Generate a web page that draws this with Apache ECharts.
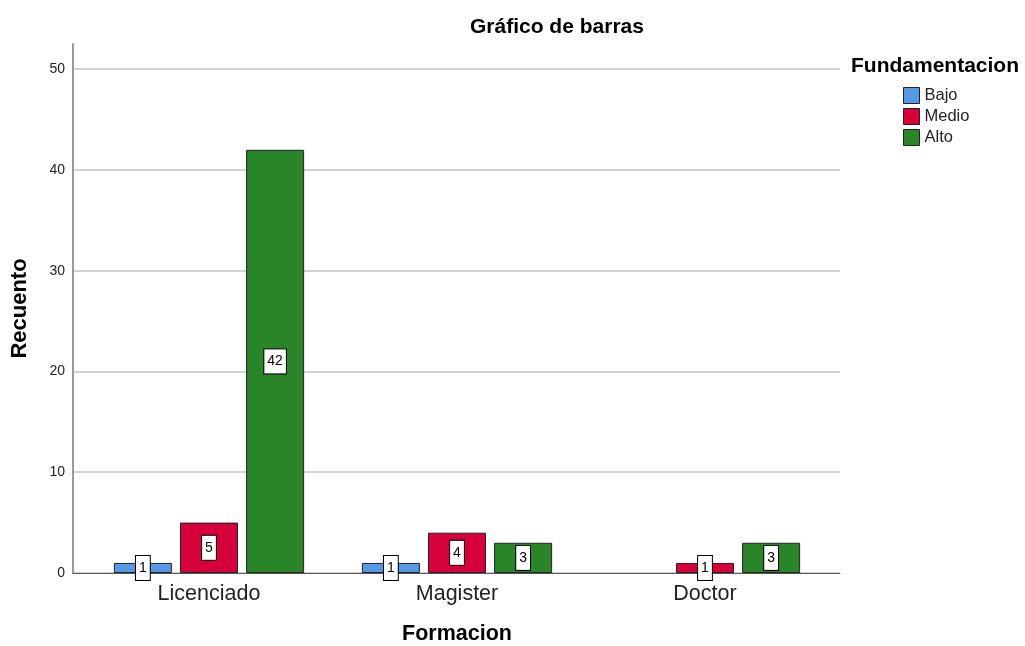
<!DOCTYPE html>
<html>
<head>
<meta charset="utf-8">
<script src="https://cdn.jsdelivr.net/npm/echarts@6/dist/echarts.min.js"></script>
<style>
    html, body { margin: 0; padding: 0; background: #fff; }
    #chartBar { width: 1025px; height: 646px; }
</style>
</head>
<body>
<div id="chartBar"></div>
<script>
    // datos
    var categorias = ['Licenciado', 'Magister', 'Doctor'];
    var niveles = ['Bajo', 'Medio', 'Alto'];
    var bajo = [1, 1, null];
    var medio = [5, 4, 1];
    var alto = [42, 3, 3];
    var colores = ['#5598e6', '#d6003a', '#2a8529'];

    var font = 'Liberation Sans, Arial, sans-serif';
    var chartBar = echarts.init(document.getElementById('chartBar'));

    function serie(nombre, datos, color) {
        return {
            name: nombre,
            type: 'bar',
            xAxisIndex: 1,
            yAxisIndex: 1,
            barWidth: 58,
            barGap: '14%',
            data: datos,
            itemStyle: { color: color, borderColor: '#222', borderWidth: 1 },
            label: {
                show: true,
                position: 'inside',
                formatter: '{c}',
                color: '#000',
                fontSize: 14,
                fontFamily: font,
                backgroundColor: '#fff',
                borderColor: '#000',
                borderWidth: 1,
                padding: [5, 3, 5, 3]
            }
        };
    }

    chartBar.setOption({
        animation: false,
        textStyle: { fontFamily: font },
        title: [
            {
                text: 'Gráfico de barras',
                left: 465,
                top: 12,
                textStyle: { fontSize: 21, fontWeight: 'bold', color: '#000', fontFamily: font }
            },
            {
                text: 'Fundamentacion',
                left: 846,
                top: 51,
                textStyle: { fontSize: 21, fontWeight: 'bold', color: '#000', fontFamily: font }
            }
        ],
        legend: {
            data: niveles,
            orient: 'vertical',
            left: 903,
            top: 87,
            padding: 0,
            icon: 'rect',
            itemWidth: 16,
            itemHeight: 16,
            itemGap: 4,
            itemStyle: { borderColor: '#222', borderWidth: 1 },
            textStyle: { fontSize: 16.5, color: '#222', fontFamily: font }
        },
        grid: [
            { left: 73, right: 185, top: 44, bottom: 73, outerBoundsMode: 'none' },
            { left: 85, right: 196, top: 44, bottom: 73, outerBoundsMode: 'none' }
        ],
        xAxis: [
            {
                type: 'value',
                gridIndex: 0,
                min: 0,
                max: 1,
                axisLine: { show: true, lineStyle: { color: '#555', width: 1 } },
                axisTick: { show: false },
                axisLabel: { show: false },
                splitLine: { show: false }
            },
            {
                type: 'category',
                gridIndex: 1,
                data: categorias,
                axisLine: { show: false },
                axisTick: { show: false },
                axisLabel: { fontSize: 21.5, color: '#222', margin: 10, fontFamily: font },
                name: 'Formacion',
                nameLocation: 'middle',
                nameGap: 50,
                nameTextStyle: { fontSize: 21.5, fontWeight: 'bold', color: '#000', fontFamily: font }
            }
        ],
        yAxis: [
            {
                type: 'value',
                gridIndex: 0,
                min: 0,
                max: 52.5,
                interval: 10,
                axisLine: { show: true, lineStyle: { color: '#999', width: 2 } },
                axisTick: { show: false },
                axisLabel: { fontSize: 14, color: '#222', margin: 8, showMaxLabel: false, fontFamily: font },
                splitLine: { show: true, showMaxLine: false, lineStyle: { color: '#d2d2d2', width: 2 } },
                name: 'Recuento',
                nameLocation: 'middle',
                nameGap: 42,
                nameTextStyle: { fontSize: 22, fontWeight: 'bold', color: '#000', fontFamily: font }
            },
            {
                type: 'value',
                gridIndex: 1,
                min: 0,
                max: 52.5,
                show: false
            }
        ],
        series: [
            serie(niveles[0], bajo, colores[0]),
            serie(niveles[1], medio, colores[1]),
            serie(niveles[2], alto, colores[2])
        ]
    });
</script>
</body>
</html>
